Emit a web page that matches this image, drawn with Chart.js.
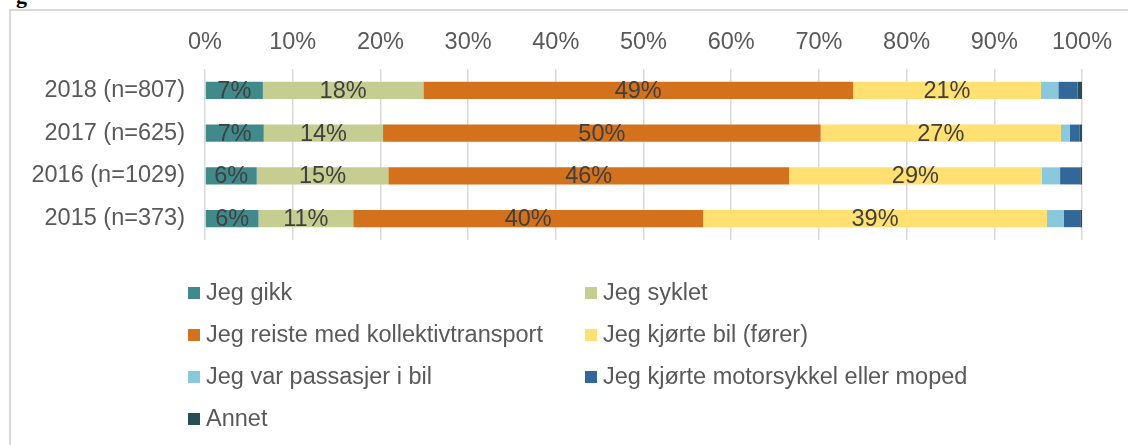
<!DOCTYPE html>
<html>
<head>
<meta charset="utf-8">
<script src="https://cdn.jsdelivr.net/npm/chart.js@4"></script>
<style>
  body { margin: 0; background: #fff; font-family: "Liberation Sans", Arial, sans-serif; }
  #wrap { position: relative; width: 1128px; height: 445px; overflow: hidden; }
  #frame { position: absolute; left: 9px; top: 9px; width: 1200px; height: 500px;
           border-left: 2px solid #d9d9d9; border-top: 2px solid #d9d9d9; }
  #cut { position: absolute; left: 16px; top: -17px; font: bold 22px "Liberation Serif", serif; color: #000; }
  #legend { position: absolute; left: 0; top: 0; }
  .item { position: absolute; font-size: 23.5px; color: #595959; white-space: nowrap; line-height: 26px; }
  .item span { display: inline-block; width: 12px; height: 12px; margin-right: 6px; vertical-align: 1px; }
  canvas { position: absolute; left: 0; top: 0; }
</style>
</head>
<body>
<div id="wrap">
  <div id="frame"></div>
  <div id="cut">g</div>
  <canvas id="chart" width="1128" height="445"></canvas>
  <div id="legend"></div>
</div>
<script>
// categories (top to bottom)
const years = ["2018 (n=807)", "2017 (n=625)", "2016 (n=1029)", "2015 (n=373)"];

// share of answers in percent, one array per travel mode
const gikk = [6.6, 6.7, 5.9, 6.1];
const syklet = [18.3, 13.6, 15.0, 10.8];
const kollektiv = [49.0, 49.9, 45.7, 39.9];
const bilForer = [21.4, 27.4, 28.8, 39.2];
const passasjer = [2.0, 1.0, 2.1, 1.9];
const motorsykkel = [2.2, 1.1, 2.3, 1.9];
const annet = [0.5, 0.3, 0.2, 0.2];

const seriesNames = [
  "Jeg gikk", "Jeg syklet", "Jeg reiste med kollektivtransport", "Jeg kjørte bil (fører)",
  "Jeg var passasjer i bil", "Jeg kjørte motorsykkel eller moped", "Annet"
];
const seriesColors = ["#418a8c", "#c6cd91", "#d4711c", "#ffe070", "#8ac8dc", "#336799", "#254f55"];
const seriesData = [gikk, syklet, kollektiv, bilForer, passasjer, motorsykkel, annet];

const xTicks = [0, 10, 20, 30, 40, 50, 60, 70, 80, 90, 100];

// only the four large segments carry a label
const labelledSeries = 4;

const barLabels = {
  id: "barLabels",
  afterDatasetsDraw(chart) {
    const ctx = chart.ctx;
    ctx.save();
    ctx.font = '23.5px "Liberation Sans", Arial, sans-serif';
    ctx.fillStyle = "#404040";
    ctx.textAlign = "center";
    ctx.textBaseline = "middle";
    for (let i = 0; i < labelledSeries; i++) {
      const meta = chart.getDatasetMeta(i);
      meta.data.forEach((bar, j) => {
        const v = chart.data.datasets[i].data[j];
        ctx.fillText(Math.round(v) + "%", (bar.x + bar.base) / 2, bar.y + 1);
      });
    }
    ctx.restore();
  }
};

const ctx = document.getElementById("chart").getContext("2d");
new Chart(ctx, {
  type: "bar",
  data: {
    labels: years,
    datasets: seriesData.map((d, i) => ({
      label: seriesNames[i],
      data: d,
      backgroundColor: seriesColors[i],
      borderWidth: 0,
      categoryPercentage: 1,
      barPercentage: 0.4
    }))
  },
  options: {
    indexAxis: "y",
    responsive: false,
    animation: false,
    layout: { padding: { left: 0, top: 0, right: 46, bottom: 205 } },
    plugins: { legend: { display: false }, tooltip: { enabled: false } },
    scales: {
      x: {
        position: "top",
        stacked: true,
        min: 0,
        max: 100,
        afterBuildTicks: (scale) => { scale.ticks = xTicks.map(v => ({ value: v })); },
        afterFit: (scale) => { scale.height = 69; },
        grid: { color: "#d9d9d9", lineWidth: 1.5, drawTicks: false },
        border: { display: false },
        ticks: {
          color: "#595959",
          font: { family: "Liberation Sans", size: 23.5 },
          padding: 12,
          maxRotation: 0,
          callback: (v) => v + "%"
        }
      },
      y: {
        stacked: true,
        afterFit: (scale) => { scale.width = 205; },
        grid: { display: false, drawTicks: false },
        border: { display: false },
        ticks: {
          color: "#595959",
          font: { family: "Liberation Sans", size: 23.5 },
          padding: 20
        }
      }
    }
  },
  plugins: [barLabels]
});

// legend in two columns, built from the series arrays
const legend = document.getElementById("legend");
const colX = [188, 585];
const rowY = [279, 321, 363, 405];
seriesNames.forEach((name, i) => {
  const el = document.createElement("div");
  el.className = "item";
  el.style.left = colX[i % 2] + "px";
  el.style.top = rowY[Math.floor(i / 2)] + "px";
  el.innerHTML = '<span style="background:' + seriesColors[i] + '"></span>' + name;
  legend.appendChild(el);
});
</script>
</body>
</html>
